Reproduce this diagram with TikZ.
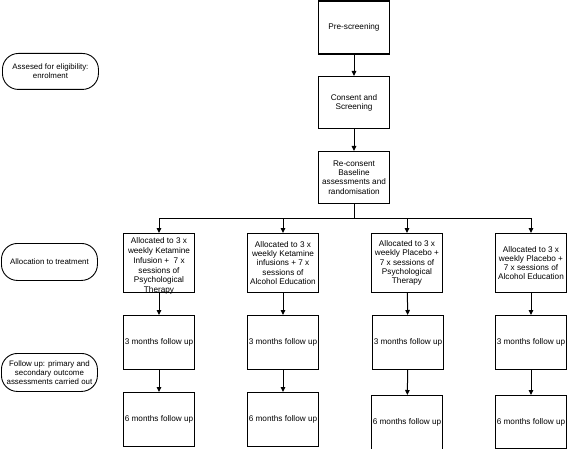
\documentclass[tikz,border=0pt]{standalone}
\usepackage{fontspec}
\setmainfont{Liberation Sans}
\usetikzlibrary{arrows.meta}
\begin{document}
\begin{tikzpicture}[x=1pt,y=-1pt,
  every node/.style={font=\fontsize{8.2}{9.2}\selectfont, align=center, inner sep=0pt},
  box/.style={draw, line width=1.1pt, minimum width=71pt, anchor=north},
  stad/.style={draw, line width=0.9pt, rounded corners=16pt, minimum width=96pt, anchor=north west},
  conn/.style={line width=1pt},
  arr/.style={conn, -{Triangle[length=5pt,width=4.5pt]}}
]
\useasboundingbox (0,0) rectangle (567,449);
% left labels
\node[stad, minimum height=36pt, font=\fontsize{7.9}{9}\selectfont] (s1) at (2,53) {Assesed for eligibility:\\enrolment};
\node[stad, minimum height=37pt, font=\fontsize{7.9}{9}\selectfont] (s2) at (1,243) {Allocation to treatment};
\node[stad, minimum height=38pt, font=\fontsize{7.9}{9}\selectfont] (s3) at (1,353) {Follow up: primary and\\secondary outcome\\assessments carried out};
% top column
\node[box, minimum height=53pt] (pre) at (354,0.5) {Pre-screening};
\node[box, minimum height=52pt] (cons) at (354,76) {Consent and\\Screening};
\node[box, minimum height=52pt] (rec) at (354,151) {Re-consent\\Baseline\\assessments and\\randomisation};
\draw[arr] (pre) -- (cons);
\draw[arr] (cons) -- (rec);
\coordinate (hm) at (354,218);
\coordinate (h1) at (159,218);
\coordinate (h2) at (283,218);
\coordinate (h3) at (407,218);
\coordinate (h4) at (531,218);
\draw[conn] (rec.south) -- (hm);
\draw[conn] (h1) -- (h4);
% allocation boxes
\node[box, minimum height=59pt] (a1) at (159,233) {};
\node[font=\fontsize{8.2}{9.8}\selectfont] (a1t) at (159,266) {Allocated to 3 x\\weekly Ketamine\\Infusion +\ \ 7 x\\sessions of\\Psychological\\Therapy};
\node[box, minimum height=59pt] (a2) at (283,233) {Allocated to 3 x\\weekly Ketamine\\infusions + 7 x\\sessions of\\Alcohol Education};
\node[box, minimum height=59pt] (a3) at (407,233) {Allocated to 3 x\\weekly Placebo +\\7 x sessions of\\Psychological\\Therapy};
\node[box, minimum height=59pt, minimum width=71pt] (a4) at (531,233) {Allocated to 3 x\\weekly Placebo +\\7 x sessions of\\Alcohol Education};
\foreach \i in {1,2,3,4} \draw[arr] (h\i) -- (a\i);
% 3 months
\foreach \i/\x in {1/159,2/283,3/408,4/531} {
  \node[box, minimum height=54pt] (t\i) at (\x,315) {3 months follow up};
  \draw[arr] (a\i) -- (t\i);
}
% 6 months
\node[box, minimum height=54pt] (m1) at (159,392) {6 months follow up};
\node[box, minimum height=54pt] (m2) at (283,392) {6 months follow up};
\node[box, minimum height=54pt] (m3) at (407,395) {6 months follow up};
\node[box, minimum height=53pt] (m4) at (531,395) {6 months follow up};
\foreach \i in {1,2,3,4} \draw[arr] (t\i) -- (m\i);
\end{tikzpicture}
\end{document}
